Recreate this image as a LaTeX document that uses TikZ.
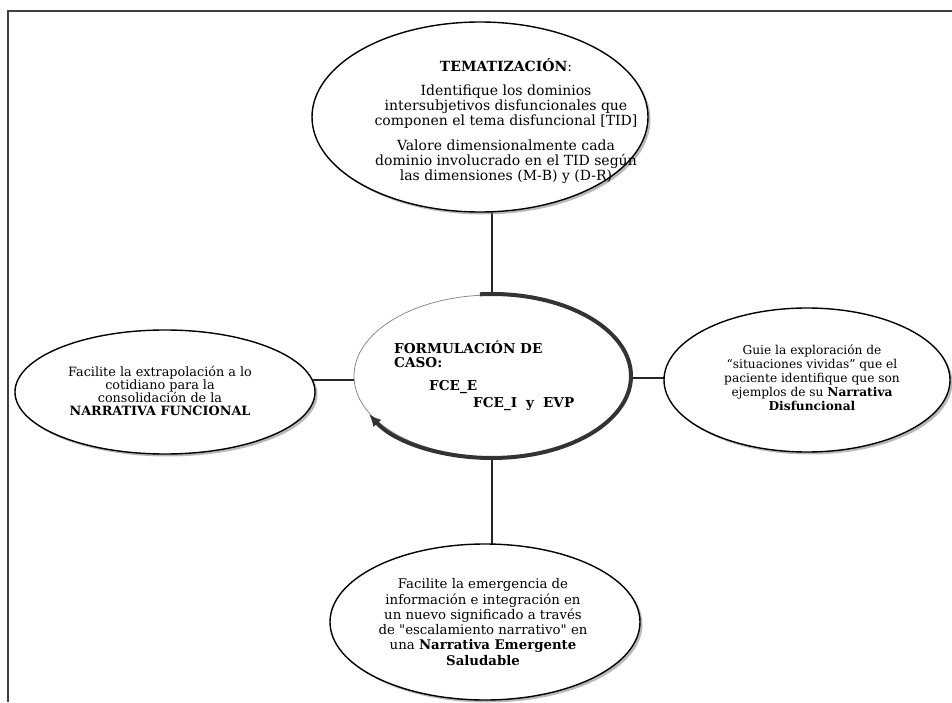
\documentclass[tikz,border=0pt]{standalone}
\usepackage{fontspec}
\setmainfont{DejaVu Serif}[Ligatures=TeXOff]
\usetikzlibrary{shapes.geometric,shadows,arrows.meta,backgrounds}
\begin{document}
\begin{tikzpicture}[x=1pt,y=1pt,
  oval/.style={ellipse, draw=black, line width=1.4pt, fill=white, inner sep=0pt,
    drop shadow={shadow xshift=2.5pt, shadow yshift=-2.5pt, fill=black!50, opacity=0.55}},
  txt/.style={align=center, inner sep=0pt, text=black},
  link/.style={draw=black!85, line width=1.3pt}]
\useasboundingbox (0,0) rectangle (952,702);
\draw[black!75, line width=1.5pt] (8,0) -- (8,691) -- (952,691);

% ellipses
\node[oval, minimum width=336pt, minimum height=190pt] (t) at (480,585) {};
\node[ellipse, draw=black!45, line width=0.8pt, fill=white, inner sep=0pt,
      minimum width=276pt, minimum height=162pt] (c) at (492,326) {};
\node[oval, minimum width=300pt, minimum height=124pt] (l) at (165,310) {};
\node[oval, minimum width=286pt, minimum height=144pt] (r) at (807,322) {};
\node[oval, minimum width=310pt, minimum height=156pt] (b) at (485,80) {};

% thick shadow arc with arrow head around the central ellipse
\draw[black!80, line width=4pt, -{Latex[length=12pt,width=11pt]}]
  ([shift={(95:139 and 82)}]c.center) arc[start angle=95, end angle=-152, x radius=139, y radius=82];

% connectors (behind the white ellipses)
\begin{scope}[on background layer]
  \draw[link] (c.center) -- (c.center |- t.center);
  \draw[link] (c.center) -- (c.center |- b.center);
  \draw[link] ([yshift=-4pt]c.center) -- ([yshift=-4pt]c.center -| l.center);
  \draw[link] ([yshift=-2pt]c.center) -- ([yshift=-2pt]c.center -| r.center);
\end{scope}

% texts
\node[txt, font=\fontsize{14}{15}\selectfont] (tt) at (506,581)
  {\textbf{TEMATIZACIÓN}:\\[9pt]
   Identifique los dominios\\
   intersubjetivos disfuncionales que\\
   componen el tema disfuncional [TID]\\[10pt]
   Valore dimensionalmente cada\\
   dominio involucrado en el TID según\\
   las dimensiones (M-B) y (D-R)};

\node[align=left, inner sep=0pt, anchor=west, font=\fontsize{13.6}{14}\selectfont\bfseries] (ct) at (394,326)
  {FORMULACIÓN DE\\
   CASO:\\[9pt]
   \hspace*{35pt}FCE\_E\\[3pt]
   \hspace*{79pt}FCE\_I\hspace{9pt}y\hspace{9pt}EVP};

\node[txt, font=\fontsize{12.8}{12.7}\selectfont] (lt) at (160,311)
  {Facilite la extrapolación a lo\\
   cotidiano para la\\
   consolidación de la\\
   \textbf{NARRATIVA FUNCIONAL}};

\node[txt, font=\fontsize{12.2}{14}\selectfont] (rt) at (812,324)
  {Guie la exploración de\\
   “situaciones vividas” que el\\
   paciente identifique que son\\
   ejemplos de su \textbf{Narrativa}\\
   \textbf{Disfuncional}};

\node[txt, font=\fontsize{13.3}{15.3}\selectfont] (bt) at (483,80)
  {Facilite la emergencia de\\
   información e integración en\\
   un nuevo significado a través\\
   de "escalamiento narrativo" en\\
   una \textbf{Narrativa Emergente}\\
   \textbf{Saludable}};
\end{tikzpicture}
\end{document}
